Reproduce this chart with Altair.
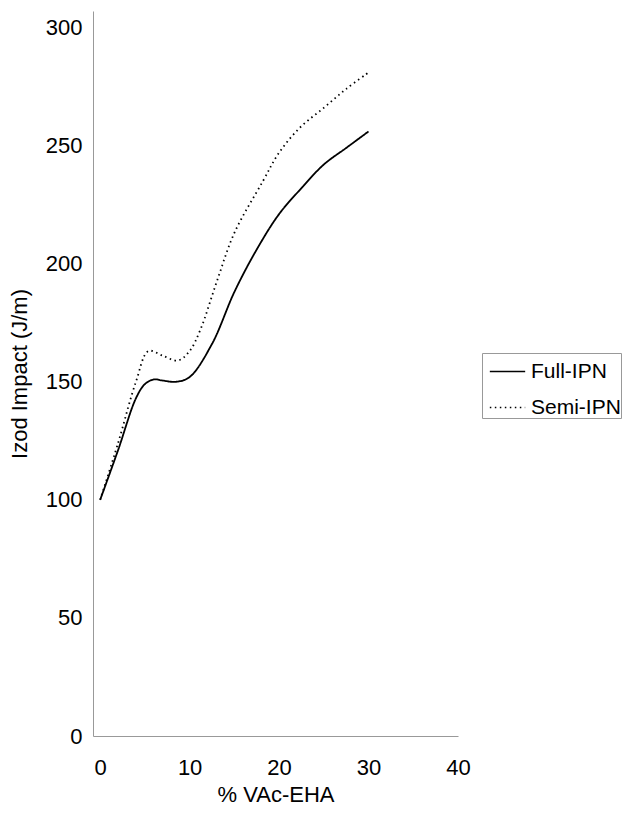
import altair as alt
import pandas as pd

# Values
full_x = [0, 2, 4, 5, 6, 7, 8.5, 10, 12.5, 15, 17.5, 20, 22.5, 25, 27.5, 30]
full_y = [100, 121, 143, 149, 151, 150.5, 150, 152, 166, 188, 206, 221, 232, 242, 249, 256]

semi_x = [0, 2, 4, 5.4, 7, 8.7, 10, 11.2, 13, 15, 18.2, 20, 22.3, 25, 27.5, 30]
semi_y = [100, 124, 150, 163, 161, 159, 163, 172, 192, 213, 235, 247, 257.5, 266, 274, 281]

series_names = ["Full-IPN", "Semi-IPN"]
x_ticks = [0, 10, 20, 30, 40]
y_ticks = [0, 50, 100, 150, 200, 250, 300]

rows = []
for xv, yv in zip(full_x, full_y):
    rows.append({"x": xv, "y": yv, "series": series_names[0]})
for xv, yv in zip(semi_x, semi_y):
    rows.append({"x": xv, "y": yv, "series": series_names[1]})
df = pd.DataFrame(rows)

FONT = "Liberation Sans"
FS = 22

chart = alt.Chart(df).mark_line(
    interpolate="catmull-rom", color="black", strokeWidth=1.8
).encode(
    x=alt.X(
        "x:Q",
        scale=alt.Scale(domain=[-0.8, 40], nice=False, zero=False),
        axis=alt.Axis(
            title="% VAc-EHA", values=x_ticks, grid=False, ticks=False, tickSize=0,
            labelPadding=21, titlePadding=6, domainColor="#999999",
            labelFont=FONT, titleFont=FONT, labelFontSize=FS, titleFontSize=FS,
            titleFontWeight="normal", labelColor="black", titleColor="black",
            labelFlush=False,
        ),
    ),
    y=alt.Y(
        "y:Q",
        scale=alt.Scale(domain=[0, 307], nice=False),
        axis=alt.Axis(
            title="Izod Impact (J/m)", values=y_ticks, grid=False, ticks=False, tickSize=0,
            labelPadding=11, titlePadding=14, domainColor="#999999",
            labelFont=FONT, titleFont=FONT, labelFontSize=FS, titleFontSize=FS,
            titleFontWeight="normal", labelColor="black", titleColor="black",
            labelFlush=False,
        ),
    ),
    strokeDash=alt.StrokeDash(
        "series:N",
        scale=alt.Scale(domain=series_names, range=[[1, 0], [1.5, 3.5]]),
        legend=alt.Legend(
            title=None, orient="none", legendX=389, legendY=342,
            symbolType="stroke", symbolSize=1250, symbolStrokeColor="black",
            symbolStrokeWidth=1.6, symbolOffset=7, labelFont=FONT, labelFontSize=21,
            labelColor="black", labelOffset=5, rowPadding=7,
            strokeColor="#999999", padding=0, fillColor="white",
        ),
    ),
).properties(
    width=365,
    height=725,
    padding={"left": 85, "top": 3, "right": 169, "bottom": 73},
    autosize=alt.AutoSizeParams(type="none"),
).configure_view(stroke=None)

chart.save("out.html", embed_options={"renderer": "svg", "actions": False})
